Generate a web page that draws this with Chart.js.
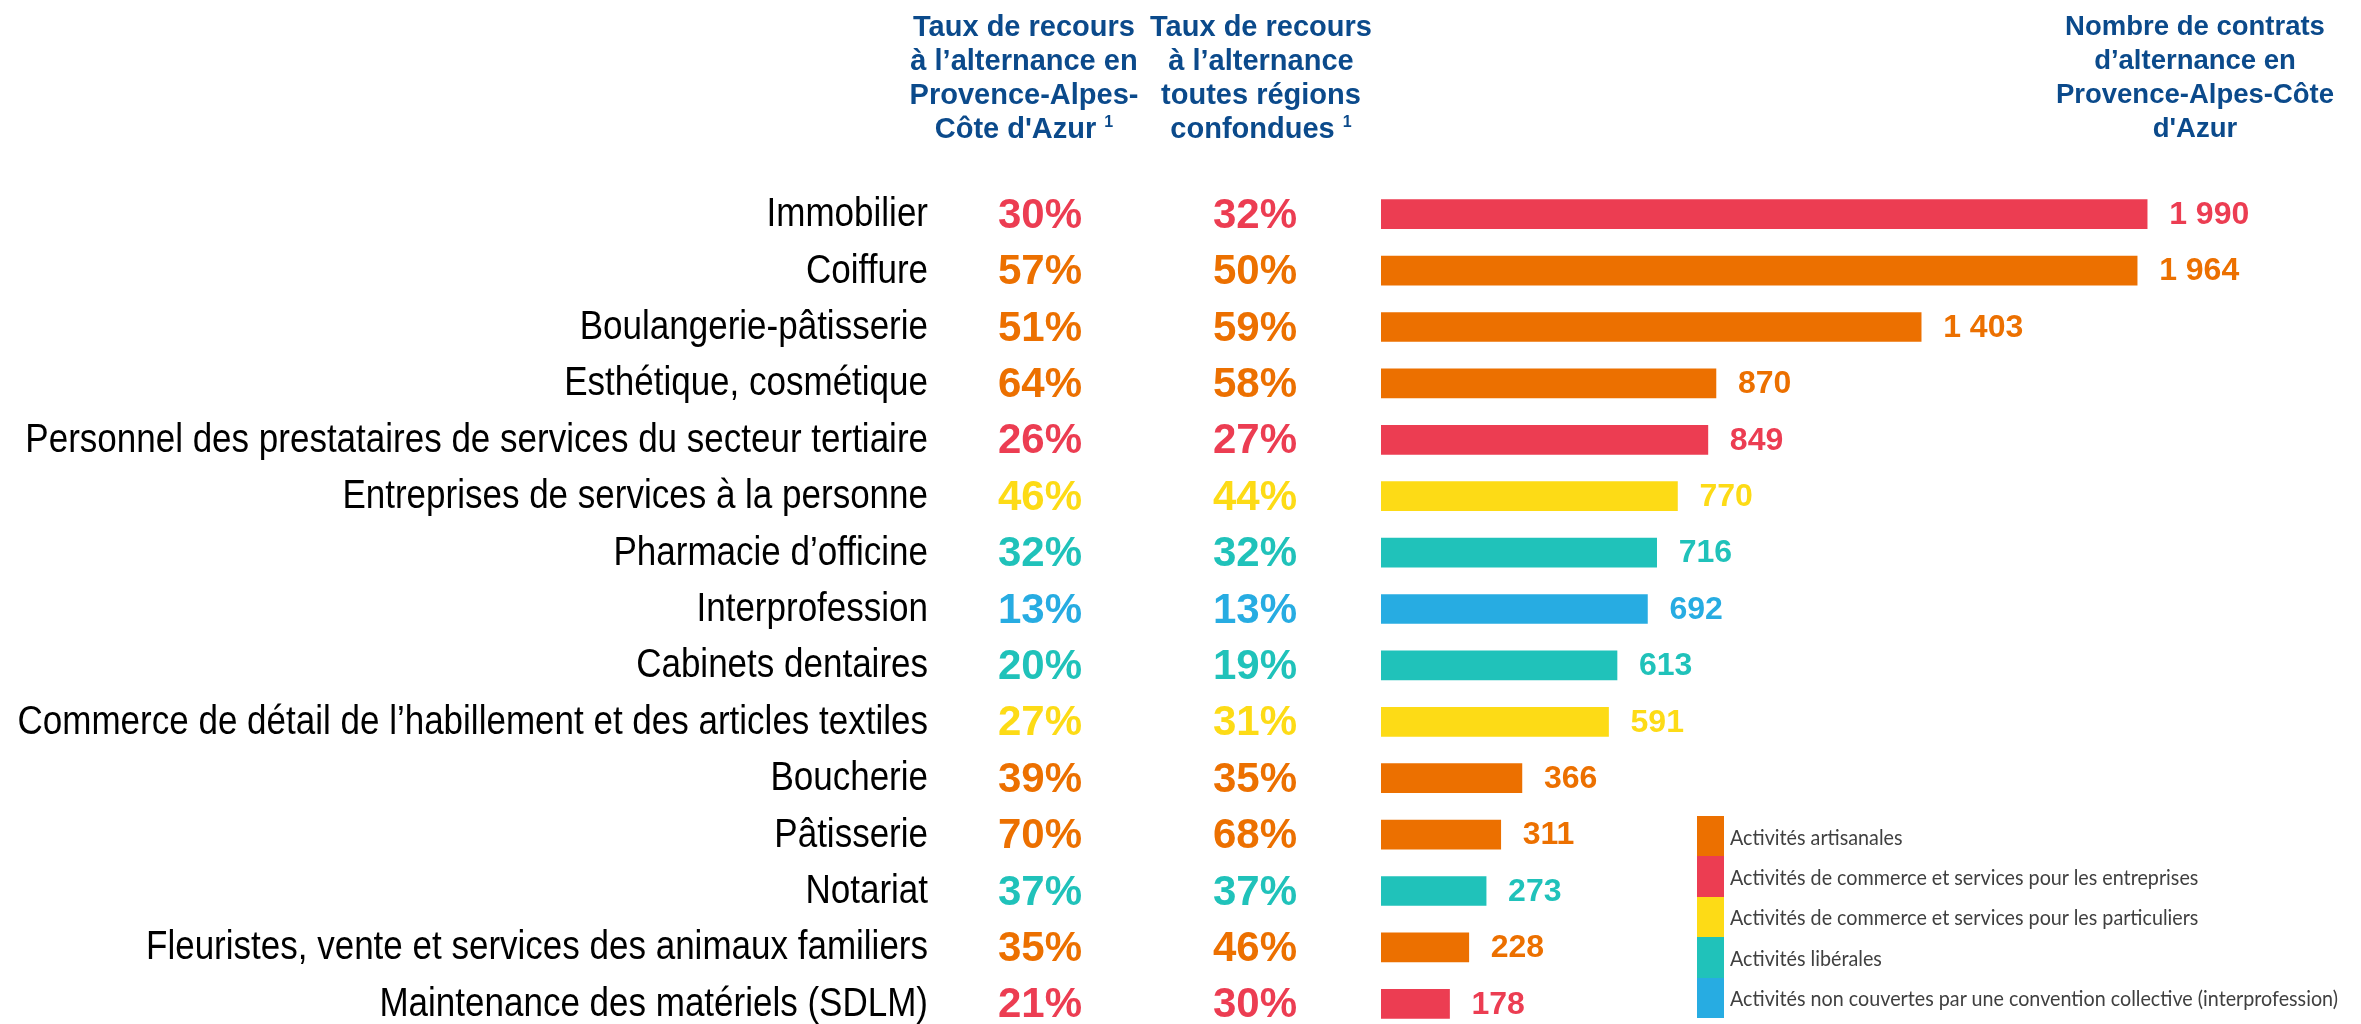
<!DOCTYPE html>
<html lang="fr">
<head>
<meta charset="utf-8">
<title>Alternance Provence-Alpes-Côte d'Azur</title>
<script src="https://cdn.jsdelivr.net/npm/chart.js@4.4.1/dist/chart.umd.min.js"></script>
<style>
  html, body { margin: 0; padding: 0; background: #fff; }
  body { width: 2361px; height: 1024px; overflow: hidden; position: relative; }
  #wrap { position: absolute; left: 0; top: 0; width: 2361px; height: 1040px; }
  .entete {
    position: absolute; top: 9px; color: #0B4A8B;
    font-family: "Liberation Sans", Arial, sans-serif; font-weight: bold;
    font-size: 29px; line-height: 34px; text-align: center; white-space: nowrap;
  }
  .entete sup { font-size: 16px; vertical-align: 11px; line-height: 0; }
  #legende {
    position: absolute; left: 1697px; top: 816px; white-space: nowrap;
    font-family: Lato, "Open Sans", sans-serif; font-size: 22px; color: #404040;
  }
  #legende div { height: 40.4px; display: flex; align-items: center; }
  #legende span.boite { width: 27px; height: 40.4px; margin-right: 6px; flex: none; }
  #legende span.texte { display: inline-block; transform-origin: left center; }
</style>
</head>
<body>
<div id="wrap"><canvas id="graphique" width="2361" height="1040"></canvas></div>

<div class="entete" style="left:894px;width:260px;">Taux de recours<br>à l’alternance en<br>Provence-Alpes-<br>Côte d'Azur <sup>1</sup></div>
<div class="entete" style="left:1131px;width:260px;">Taux de recours<br>à l’alternance<br>toutes régions<br>confondues <sup>1</sup></div>
<div class="entete" style="left:2045px;width:300px;font-size:27.5px;">Nombre de contrats<br>d’alternance en<br>Provence-Alpes-Côte<br>d'Azur</div>

<div id="legende"></div>

<script>
const categories = [
  'Immobilier',
  'Coiffure',
  'Boulangerie-pâtisserie',
  'Esthétique, cosmétique',
  'Personnel des prestataires de services du secteur tertiaire',
  'Entreprises de services à la personne',
  'Pharmacie d’officine',
  'Interprofession',
  'Cabinets dentaires',
  'Commerce de détail de l’habillement et des articles textiles',
  'Boucherie',
  'Pâtisserie',
  'Notariat',
  'Fleuristes, vente et services des animaux familiers',
  'Maintenance des matériels (SDLM)'
];
const nbContrats = [1990, 1964, 1403, 870, 849, 770, 716, 692, 613, 591, 366, 311, 273, 228, 178];
const tauxPaca = [30, 57, 51, 64, 26, 46, 32, 13, 20, 27, 39, 70, 37, 35, 21];
const tauxNational = [32, 50, 59, 58, 27, 44, 32, 13, 19, 31, 35, 68, 37, 46, 30];
// 0 artisanales, 1 entreprises, 2 particuliers, 3 libérales, 4 interprofession
const groupe = [1, 0, 0, 0, 1, 2, 3, 4, 3, 2, 0, 0, 3, 0, 1];

const groupes = [
  'Activités artisanales',
  'Activités de commerce et services pour les entreprises',
  'Activités de commerce et services pour les particuliers',
  'Activités libérales',
  'Activités non couvertes par une convention collective (interprofession)'
];
const couleurs = ['#EC7000', '#EC3D52', '#FDDB16', '#20C2BA', '#27ACE2'];

const couleurBarres = groupe.map(g => couleurs[g]);

// legende en HTML
const leg = document.getElementById('legende');
const textes = [];
groupes.forEach((g, i) => {
  const ligne = document.createElement('div');
  const boite = document.createElement('span');
  boite.className = 'boite';
  boite.style.background = couleurs[i];
  const txt = document.createElement('span');
  txt.className = 'texte';
  txt.textContent = g;
  ligne.appendChild(boite);
  ligne.appendChild(txt);
  leg.appendChild(ligne);
  textes.push(txt);
});
// on resserre le texte pour que la plus longue ligne tienne (~608 px)
const largeurMax = Math.max(...textes.map(t => t.getBoundingClientRect().width));
if (largeurMax > 608) {
  textes.forEach(t => { t.style.transform = 'scaleX(' + (608 / largeurMax) + ')'; });
}

function formatNombre(n) {
  return String(n).replace(/\B(?=(\d{3})+(?!\d))/g, ' ');
}

const etiquettes = {
  id: 'etiquettes',
  afterDatasetsDraw(chart) {
    const ctx = chart.ctx;
    const meta = chart.getDatasetMeta(0);
    const yScale = chart.scales.y;
    ctx.save();
    ctx.textBaseline = 'middle';
    meta.data.forEach((bar, i) => {
      const y = yScale.getPixelForValue(i);
      const c = couleurBarres[i];

      // libellé de la categorie, police etroite (façon Arial Narrow)
      ctx.save();
      ctx.fillStyle = '#000';
      ctx.font = '40px "Liberation Sans", Arial, sans-serif';
      ctx.textAlign = 'right';
      ctx.translate(yScale.right - 453, y + 1);
      ctx.scale(0.875, 1);
      ctx.fillText(yScale.getLabelForValue(i), 0, 0);
      ctx.restore();

      ctx.fillStyle = c;
      // nombre de contrats
      ctx.font = 'bold 32px "Liberation Sans", Arial, sans-serif';
      ctx.textAlign = 'left';
      ctx.fillText(formatNombre(nbContrats[i]), bar.x + 22, y + 1);
      // taux
      ctx.font = 'bold 42px "Liberation Sans", Arial, sans-serif';
      ctx.textAlign = 'center';
      ctx.fillText(tauxPaca[i] + '%', 1040, y + 2);
      ctx.fillText(tauxNational[i] + '%', 1255, y + 2);
    });
    ctx.restore();
  }
};

let monGraphique = new Chart(document.getElementById('graphique').getContext('2d'), {
  type: 'bar',
  data: {
    labels: categories,
    datasets: [{
      data: nbContrats,
      backgroundColor: couleurBarres,
      borderWidth: 0,
      barThickness: 29
    }]
  },
  options: {
    indexAxis: 'y',
    responsive: false,
    animation: false,
    layout: { padding: { top: 186, right: 56, bottom: 8, left: 0 } },
    plugins: {
      legend: { display: false },
      tooltip: { enabled: false }
    },
    scales: {
      x: {
        display: false,
        min: 0,
        max: 2400
      },
      y: {
        grid: { display: false, drawTicks: false },
        border: { display: false },
        ticks: { display: false },
        afterFit: (scale) => {
          scale.width = 1381;
          scale.paddingTop = 0;
          scale.paddingBottom = 0;
        }
      }
    }
  },
  plugins: [etiquettes]
});
</script>
</body>
</html>
